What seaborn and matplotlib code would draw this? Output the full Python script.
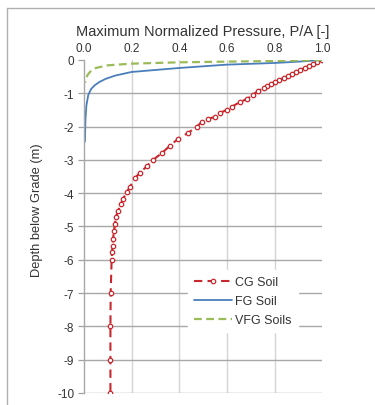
import numpy as np
import pandas as pd
import seaborn as sns
import matplotlib.pyplot as plt
from matplotlib.lines import Line2D

# CG soil: depth below grade (m) and max normalized pressure
cg_depth = [0.00, 0.06, 0.12, 0.18, 0.24, 0.30, 0.36, 0.42, 0.48, 0.54, 0.60, 0.66,
            0.72, 0.78, 0.84, 0.93, 1.05, 1.17, 1.26, 1.41, 1.50, 1.59, 1.71, 1.77,
            1.86, 2.00, 2.19, 2.37, 2.58, 2.79, 3.00, 3.18, 3.39, 3.54, 3.81, 3.96,
            4.17, 4.32, 4.53, 4.71, 4.92, 5.13, 5.37, 5.58, 5.76, 6.00, 7.00, 8.00,
            9.00, 10.00]
cg_press = [1.000, 0.980, 0.962, 0.944, 0.926, 0.908, 0.890, 0.872, 0.855, 0.838, 0.820, 0.803,
            0.786, 0.770, 0.755, 0.731, 0.708, 0.685, 0.655, 0.620, 0.600, 0.570, 0.550, 0.520,
            0.495, 0.474, 0.437, 0.395, 0.360, 0.328, 0.290, 0.265, 0.235, 0.214, 0.193, 0.180,
            0.164, 0.155, 0.143, 0.134, 0.130, 0.126, 0.122, 0.120, 0.118, 0.116, 0.112, 0.111,
            0.111, 0.111]

# FG soil
fg_depth = [0.00, 0.05, 0.09, 0.14, 0.24, 0.36, 0.47, 0.57, 0.66, 0.76, 0.87, 1.05, 1.37, 1.80, 2.45]
fg_press = [1.000, 0.900, 0.800, 0.600, 0.400, 0.200, 0.130, 0.090, 0.065, 0.045, 0.030, 0.018, 0.010, 0.006, 0.004]

# VFG soils
vfg_depth = [0.00, 0.03, 0.05, 0.07, 0.11, 0.16, 0.24, 0.32, 0.45, 0.58, 0.68]
vfg_press = [1.000, 0.800, 0.600, 0.400, 0.200, 0.100, 0.050, 0.030, 0.015, 0.008, 0.005]

plt.rcParams['axes.unicode_minus'] = False
sns.set_style('white')
plt.rcParams['font.family'] = ['Liberation Sans', 'DejaVu Sans']

cg = pd.DataFrame({'p': cg_press, 'd': -np.array(cg_depth)})
fg = pd.DataFrame({'p': fg_press, 'd': -np.array(fg_depth)})
vfg = pd.DataFrame({'p': vfg_press, 'd': -np.array(vfg_depth)})

fig = plt.figure(figsize=(3.75, 4.06), dpi=100)
ax = fig.add_axes([0.224, 0.0296, 0.635, 0.8202])

red = '#C8282D'
blue = '#4A7EBB'
green = '#9BBB59'

sns.lineplot(data=cg, x='p', y='d', sort=False, estimator=None, ax=ax, color=red,
             linestyle=(0, (4, 2.5)), linewidth=1.5, marker='o', markersize=3.2,
             markerfacecolor='white', markeredgecolor=red, markeredgewidth=0.9,
             label='CG Soil')
sns.lineplot(data=fg, x='p', y='d', sort=False, estimator=None, ax=ax, color=blue,
             linewidth=1.3, label='FG Soil')
sns.lineplot(data=vfg, x='p', y='d', sort=False, estimator=None, ax=ax, color=green,
             linestyle=(0, (3.5, 2)), linewidth=1.6, label='VFG Soils')

ax.set_xlim(0, 1.0)
ax.set_ylim(-10, 0)
ax.set_xticks([0.0, 0.2, 0.4, 0.6, 0.8, 1.0])
ax.set_xticklabels(['0.0', '0.2', '0.4', '0.6', '0.8', '1.0'])
ax.set_yticks(range(-10, 1))
ax.set_yticklabels([str(v) for v in range(-10, 1)])
ax.xaxis.tick_top()
ax.xaxis.set_label_position('top')
ax.set_xlabel('Maximum Normalized Pressure, P/A [-]', fontsize=10.5, color='#333333')
ax.xaxis.set_label_coords(0.5, 1.075)
ax.set_ylabel('Depth below Grade (m)', fontsize=9.3, color='#333333')
ax.yaxis.set_label_coords(-0.173, 0.553)
ax.tick_params(axis='x', length=0, pad=4, labelsize=8.5, colors='#333333')
ax.tick_params(axis='y', length=4, width=0.9, color='#A0A0A0', pad=3, labelsize=8.5, labelcolor='#333333', left=True)

# gridlines
for v in [0.2, 0.4, 0.6, 0.8]:
    ax.axvline(v, color='#D4D4D4', linewidth=1.0, zorder=0)
for v in range(-10, 0):
    ax.axhline(v, color='#A8A8A8', linewidth=1.0, zorder=0)

for s in ['top', 'right', 'bottom']:
    ax.spines[s].set_visible(False)
ax.spines['left'].set_color('#A8A8A8')
ax.spines['left'].set_linewidth(1.0)

leg = ax.legend(loc='upper left', bbox_to_anchor=(0.41, 0.388), frameon=True, fontsize=9,
                handlelength=3.0, handletextpad=0.3, labelspacing=0.55, borderpad=0.5)
leg.get_frame().set_edgecolor('white')
leg.get_frame().set_facecolor('white')
leg.get_frame().set_alpha(1.0)
for t in leg.get_texts():
    t.set_color('#333333')

# outer frame lines
fig.add_artist(Line2D([7 / 375, 7 / 375], [0, 1 - 9 / 406], transform=fig.transFigure, color='#B0B0B0', linewidth=1.0))
fig.add_artist(Line2D([7 / 375, 1], [1 - 9 / 406, 1 - 9 / 406], transform=fig.transFigure, color='#B0B0B0', linewidth=1.0))

fig.savefig('out.png', dpi=100)
